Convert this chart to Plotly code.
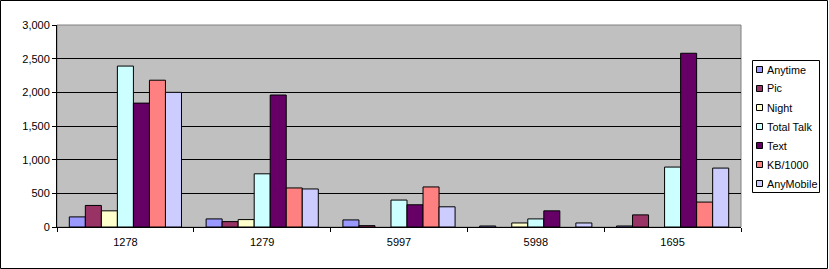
import plotly.graph_objects as go

categories = ["1278", "1279", "5997", "5998", "1695"]
series_names = ["Anytime", "Pic", "Night", "Total Talk", "Text", "KB/1000", "AnyMobile"]
anytime = [150, 120, 105, 15, 15]
pic = [320, 80, 20, 0, 180]
night = [240, 110, 0, 60, 0]
total_talk = [2390, 790, 400, 120, 890]
text = [1840, 1960, 330, 240, 2580]
kb1000 = [2180, 580, 595, 0, 370]
anymobile = [2000, 565, 300, 60, 875]
colors = ["#9999FF", "#993366", "#FFFFCC", "#CCFFFF", "#660066", "#FF8080", "#CCCCFF"]
y_ticks = [0, 500, 1000, 1500, 2000, 2500, 3000]

series_values = [anytime, pic, night, total_talk, text, kb1000, anymobile]

fig = go.Figure()
for name, vals, col in zip(series_names, series_values, colors):
    fig.add_trace(go.Bar(
        name=name, x=categories, y=vals,
        marker=dict(color=col,
                    line=dict(color="black", width=[1 if v > 0 else 0 for v in vals])),
        showlegend=False,
    ))

W, H = 829, 269
L, R, T, B = 57, 88, 25, 42
pw, ph = W - L - R, H - T - B


def px(xp):
    return (xp - L) / pw


def py(yp):
    return (H - B - yp) / ph


FONT = "Liberation Sans, Arial, sans-serif"
shapes = [
    dict(type="rect", xref="paper", yref="paper", x0=0, x1=1, y0=0, y1=1,
         line=dict(color="#808080", width=1), layer="below"),
    dict(type="rect", xref="paper", yref="paper",
         x0=px(0.5), x1=px(827.5), y0=py(268.5), y1=py(0.5),
         line=dict(color="black", width=1)),
    # legend box
    dict(type="rect", xref="paper", yref="paper",
         x0=px(752.5), x1=px(819.5), y0=py(192.5), y1=py(60.5),
         line=dict(color="black", width=1), fillcolor="white"),
]
annotations = []
for i, (name, col) in enumerate(zip(series_names, colors)):
    cy = 69.5 + i * 19
    shapes.append(dict(type="rect", xref="paper", yref="paper",
                       x0=px(756.5), x1=px(762.5), y0=py(cy + 3), y1=py(cy - 3),
                       line=dict(color="black", width=1), fillcolor=col))
    annotations.append(dict(xref="paper", yref="paper", x=px(765), y=py(cy),
                            xanchor="left", yanchor="middle", showarrow=False,
                            text=name, font=dict(family=FONT, size=10.8, color="black")))

fig.update_layout(
    width=W, height=H,
    margin=dict(l=L, r=R, t=T, b=B, autoexpand=False),
    paper_bgcolor="white",
    plot_bgcolor="#C0C0C0",
    barmode="group",
    bargap=0.18,
    bargroupgap=0,
    font=dict(family=FONT, size=11, color="black"),
    showlegend=False,
    xaxis=dict(
        type="category", tickson="boundaries", ticks="outside", ticklen=4,
        tickcolor="black", showline=True, linecolor="black", linewidth=1,
        showgrid=False, ticklabelstandoff=5,
    ),
    yaxis=dict(
        range=[0, 3000], tickvals=y_ticks, tickformat=",d",
        ticks="outside", ticklen=4, tickcolor="black",
        showline=True, linecolor="black", linewidth=1,
        showgrid=True, gridcolor="black", gridwidth=1, zeroline=False,
    ),
    shapes=shapes,
    annotations=annotations,
)

fig.write_html("out.html")
